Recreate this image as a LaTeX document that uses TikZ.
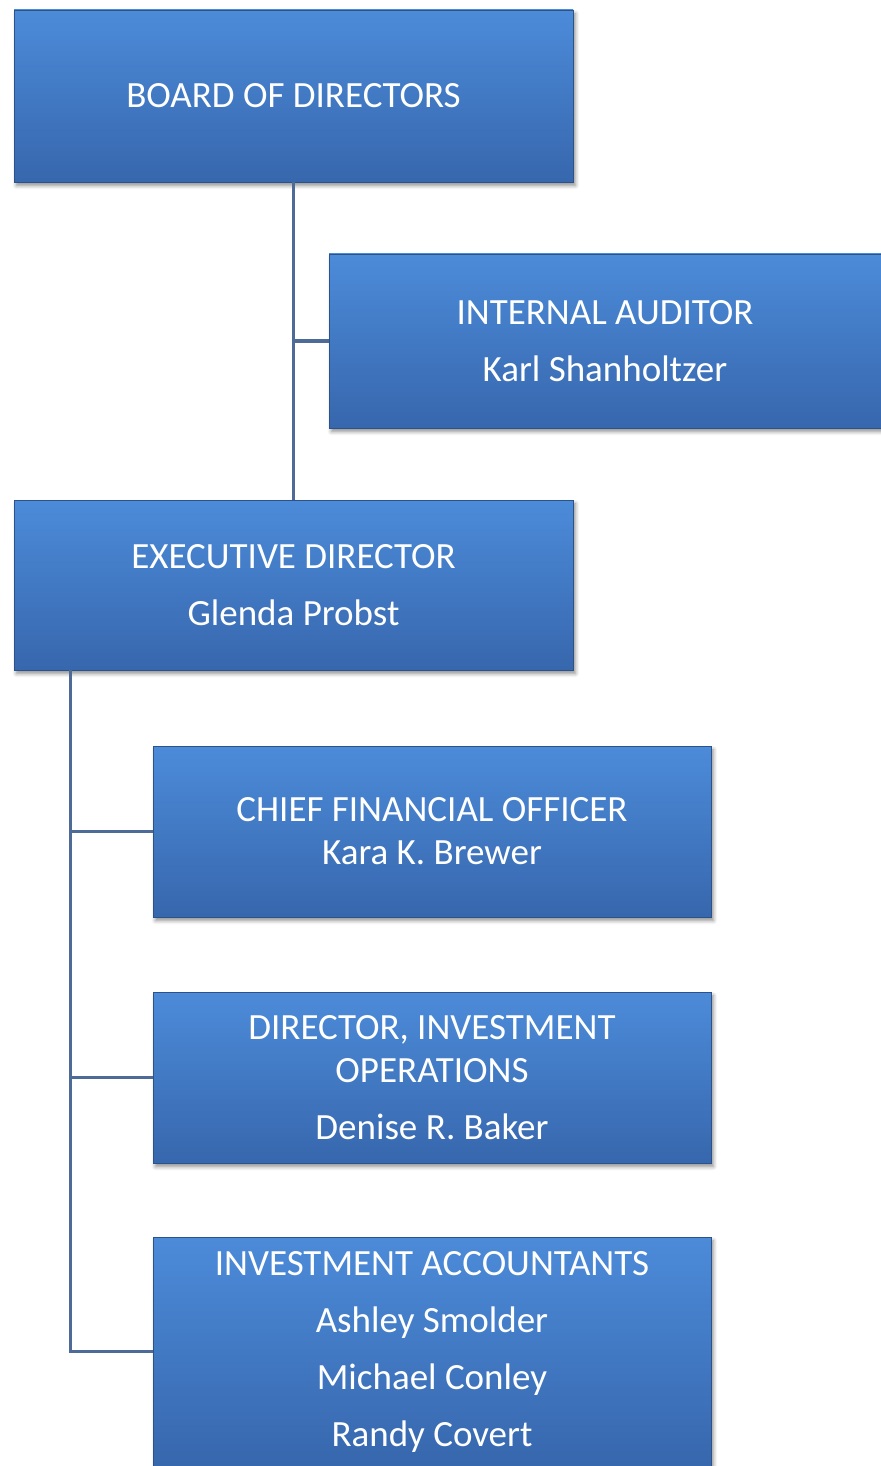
\documentclass[tikz,border=0pt]{standalone}
\usepackage{fontspec}
\setmainfont{Carlito}
\usetikzlibrary{calc,shadows.blur}
\newcommand{\OrgChartPx}{0.5pt}

\definecolor{boxtop}{HTML}{4C8BD9}
\definecolor{boxbottom}{HTML}{3767AD}
\definecolor{linkcol}{HTML}{4E6A96}

\begin{document}
\begin{tikzpicture}[x=\OrgChartPx, y=-\OrgChartPx,
    orgbox/.style={rectangle, inner sep=0pt, align=center, text=white,
                   top color=boxtop, bottom color=boxbottom, draw=boxbottom!80!black, line width=0.4pt,
                   font=\fontsize{18.5}{21.5}\selectfont,
                   blur shadow={shadow xshift=1.2pt, shadow yshift=-1.8pt, shadow blur steps=6, shadow opacity=45}},
    link/.style={draw=linkcol, line width=1.6pt}]
    \useasboundingbox (0,0) rectangle (881,1466);

    % draw the boxes
    \node (board) [orgbox, minimum width=279.5pt, minimum height=86pt] at (293.5,96)
          {BOARD OF DIRECTORS};
    \node (auditor) [orgbox, minimum width=276pt, minimum height=87pt] at (605,341)
          {INTERNAL AUDITOR\\[7pt] Karl Shanholtzer};
    \node (exec) [orgbox, minimum width=279.5pt, minimum height=85pt] at (293.5,585)
          {EXECUTIVE DIRECTOR\\[7pt] Glenda Probst};
    \node (cfo) [orgbox, minimum width=279pt, minimum height=85.5pt] at (432,831.5)
          {CHIEF FINANCIAL OFFICER\\ Kara K. Brewer};
    \node (dio) [orgbox, minimum width=279pt, minimum height=85.5pt] at (432,1077.5)
          {DIRECTOR, INVESTMENT\\ OPERATIONS\\[7pt] Denise R. Baker};
    \node (acct) [orgbox, minimum width=279pt, minimum height=114.5pt] at (432,1351.5)
          {INVESTMENT ACCOUNTANTS\\[7pt] Ashley Smolder\\[7pt] Michael Conley\\[7pt] Randy Covert};

    % draw the links
    \coordinate (trunk) at ([xshift=28.5pt]exec.south west);
    \draw [link] (board.south) -- (exec.north);
    \draw [link] (auditor.west) -- (auditor.west -| board.south);
    \draw [link] (trunk) |- (acct.west);
    \foreach \child in {cfo, dio}
        \draw [link] (\child.west) -- (\child.west -| trunk);
\end{tikzpicture}
\end{document}
